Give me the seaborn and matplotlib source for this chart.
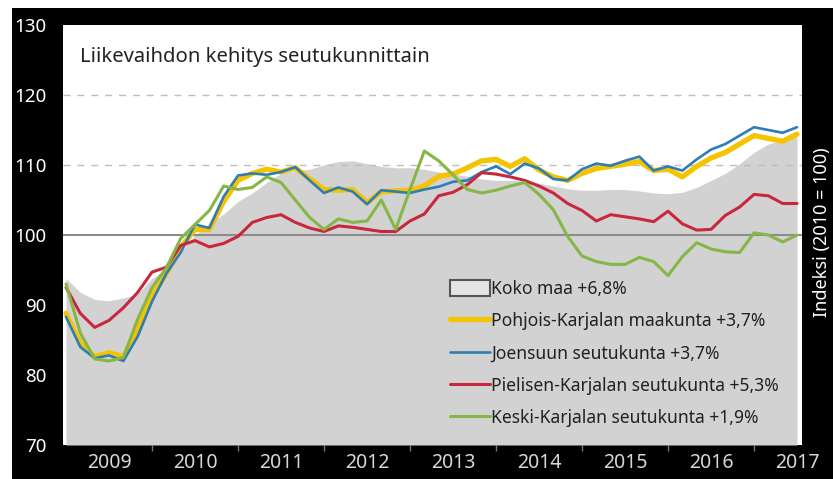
import numpy as np
import pandas as pd
import seaborn as sns
import matplotlib.pyplot as plt
from matplotlib.patches import Rectangle, Patch
from matplotlib.lines import Line2D

sns.set_theme(style="white")
plt.rcParams["font.family"] = ["Noto Sans", "DejaVu Sans"]

# bimonthly points, Jan 2009 .. Jul 2017 (index 2010 = 100)
t = 2009 + np.arange(52) / 6

koko_maa = [93.8, 91.8, 90.8, 90.6, 91.0, 91.6, 93.8, 95.2, 97.6, 100.0, 101.6, 103.0,
            104.8, 106.0, 107.5, 108.8, 109.2, 109.4, 110.0, 110.5, 110.6, 110.2, 109.8, 109.6,
            109.6, 109.4, 109.0, 108.7, 108.4, 108.0, 107.8, 107.8, 107.7, 107.4, 107.0, 106.6,
            106.4, 106.4, 106.5, 106.5, 106.3, 106.0, 105.9, 106.1, 106.8, 107.8, 108.8, 110.2,
            111.8, 113.0, 113.6, 114.0]
pohjois_karjala = [88.8, 84.5, 82.6, 83.2, 82.6, 86.5, 91.3, 94.5, 98.2, 100.8, 100.8, 104.8,
                   107.8, 108.8, 109.4, 109.0, 109.6, 108.0, 106.5, 106.4, 106.5, 104.6, 106.2, 106.3,
                   106.4, 107.0, 108.4, 108.7, 109.6, 110.6, 110.8, 109.8, 110.9, 109.3, 108.3, 107.8,
                   108.8, 109.5, 109.8, 110.1, 110.5, 109.2, 109.4, 108.3, 109.8, 111.0, 111.8, 113.0,
                   114.2, 113.8, 113.4, 114.4]
joensuu = [88.3, 84.0, 82.4, 82.8, 82.0, 85.5, 90.5, 94.5, 97.5, 101.5, 101.0, 105.5,
           108.5, 108.8, 108.6, 109.0, 109.7, 107.8, 106.0, 106.8, 106.2, 104.4, 106.4, 106.2,
           106.0, 106.5, 106.9, 107.6, 107.8, 109.0, 109.8, 108.7, 110.2, 109.5, 108.0, 107.8,
           109.4, 110.2, 109.9, 110.6, 111.2, 109.2, 109.8, 109.2, 110.8, 112.2, 113.0, 114.2,
           115.4, 115.0, 114.6, 115.4]
pielinen = [92.5, 88.8, 86.8, 87.8, 89.6, 91.8, 94.7, 95.4, 98.5, 99.2, 98.3, 98.8,
            99.8, 101.8, 102.5, 102.9, 101.8, 101.0, 100.5, 101.3, 101.1, 100.8, 100.5, 100.5,
            102.0, 103.0, 105.6, 106.1, 107.2, 108.9, 108.7, 108.3, 107.8, 107.0, 106.0, 104.5,
            103.5, 102.0, 102.9, 102.6, 102.3, 101.9, 103.4, 101.6, 100.7, 100.8, 102.8, 104.0,
            105.8, 105.6, 104.5, 104.5]
keski_karjala = [93.0, 86.0, 82.3, 82.0, 82.5, 88.0, 92.5, 95.3, 99.5, 101.5, 103.5, 107.0,
                 106.5, 106.8, 108.3, 107.5, 105.0, 102.5, 100.8, 102.3, 101.8, 102.0, 105.0, 100.8,
                 106.5, 112.0, 110.6, 108.6, 106.5, 106.0, 106.4, 107.0, 107.5, 105.8, 103.6, 99.8,
                 97.0, 96.2, 95.8, 95.8, 96.8, 96.2, 94.2, 96.9, 98.9, 98.0, 97.6, 97.5,
                 100.3, 100.0, 99.0, 100.0]

labels = ["Koko maa +6,8%",
          "Pohjois-Karjalan maakunta +3,7%",
          "Joensuun seutukunta +3,7%",
          "Pielisen-Karjalan seutukunta +5,3%",
          "Keski-Karjalan seutukunta +1,9%"]
year_labels = [str(y) for y in range(2009, 2018)]

colors = {labels[1]: "#f5c400", labels[2]: "#2f7db5",
          labels[3]: "#c8283e", labels[4]: "#85b646"}
widths = {labels[1]: 3.8, labels[2]: 1.9, labels[3]: 2.2, labels[4]: 2.2}

lines = pd.DataFrame({"t": t, labels[1]: pohjois_karjala, labels[2]: joensuu,
                      labels[3]: pielinen, labels[4]: keski_karjala})
long = lines.melt(id_vars="t", var_name="series", value_name="value")

W, H = 833, 479
fig = plt.figure(figsize=(W / 100, H / 100), dpi=100, facecolor="white")
fig.patches.append(Rectangle((12 / W, 0), 1 - 12 / W, 1 - 8 / H, transform=fig.transFigure,
                             facecolor="black", edgecolor="none", zorder=-10))
ax = fig.add_axes([63 / W, 1 - 445 / H, (802 - 63) / W, (445 - 25) / H])
ax.set_facecolor("white")

ax.fill_between(t, 70, koko_maa, color="#d2d2d2", lw=0, zorder=1)
for yv in [110, 120]:
    ax.axhline(yv, color="#bdbdbd", lw=1.0, ls=(0, (5, 5)), zorder=2)
ax.axhline(100, color="#8c8c8c", lw=1.5, zorder=2)

sns.lineplot(data=long, x="t", y="value", hue="series", size="series",
             palette=colors, sizes=widths, hue_order=labels[1:], size_order=labels[1:],
             legend=False, ax=ax, zorder=3)

ax.set_xlim(2008.965, 2017.558)
ax.set_ylim(70, 130)
ax.set_xlabel("")
ax.set_ylabel("")
ax.set_yticks(range(70, 131, 10))
ax.set_xticks([y + 0.5 for y in range(2009, 2018)])
ax.set_xticklabels(year_labels)
ax.set_xticks(range(2010, 2018), minor=True)
ax.tick_params(axis="y", length=0, pad=12, labelcolor="white", labelsize=13.5)
ax.tick_params(axis="x", which="major", length=0, pad=6, labelcolor="#d8d8d8", labelsize=14)
ax.tick_params(axis="x", which="minor", length=4, width=1, color="#777777", bottom=True)
for s in ax.spines.values():
    s.set_visible(False)

ax.text((80 - 63) / 739, (445 - 57) / 420, "Liikevaihdon kehitys seutukunnittain",
        transform=ax.transAxes, ha="left", va="center", fontsize=14.6, color="#222222")

handles = [Patch(facecolor="#e4e4e4", edgecolor="#555555", lw=1.5)]
handles += [Line2D([], [], color=colors[k], lw=widths[k]) for k in labels[1:]]
ax.legend(handles, labels, loc="upper left", bbox_to_anchor=((450 - 63) / 739, (445 - 280) / 420),
          frameon=False, fontsize=12.6, handlelength=2.3, handleheight=1.0, handletextpad=0.05,
          labelspacing=0.82, borderpad=0, borderaxespad=0, labelcolor="#222222")

fig.text(822 / W, 1 - 232 / H, "Indeksi (2010 = 100)", rotation=90, ha="center", va="center",
         color="white", fontsize=13)

fig.savefig("out.png", dpi=100, facecolor=fig.get_facecolor())
